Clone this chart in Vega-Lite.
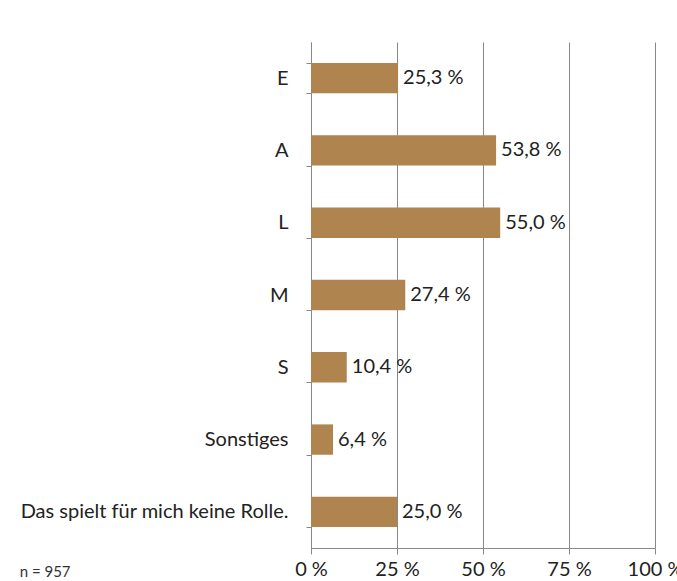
{
  "$schema": "https://vega.github.io/schema/vega-lite/v6.json",
  "width": 344,
  "height": 506,
  "autosize": {"type": "none"},
  "padding": {"left": 311, "top": 42, "right": 22, "bottom": 33},
  "background": "white",
  "data": {
    "values": [
      {"kategorie": "E", "anteil": 25.3},
      {"kategorie": "A", "anteil": 53.8},
      {"kategorie": "L", "anteil": 55.0},
      {"kategorie": "M", "anteil": 27.4},
      {"kategorie": "S", "anteil": 10.4},
      {"kategorie": "Sonstiges", "anteil": 6.4},
      {"kategorie": "Das spielt für mich keine Rolle.", "anteil": 25.0}
    ]
  },
  "title": {
    "text": "n = 957",
    "orient": "bottom",
    "anchor": "start",
    "frame": "bounds",
    "offset": -14,
    "fontSize": 15,
    "fontWeight": "normal",
    "color": "#333333",
    "font": "Lato"
  },
  "encoding": {
    "y": {
      "field": "kategorie",
      "type": "nominal",
      "sort": null,
      "scale": {"paddingInner": 0.58, "paddingOuter": 0.29},
      "axis": {
        "title": null,
        "tickBand": "extent",
        "tickSize": 5,
        "tickColor": "#888888",
        "domainColor": "#888888",
        "labelPadding": 18,
        "labelFontSize": 20,
        "labelFont": "Lato",
        "labelColor": "#222222",
        "labelLimit": 0,
        "grid": false
      }
    },
    "x": {
      "field": "anteil",
      "type": "quantitative",
      "scale": {"domain": [0, 100], "nice": false},
      "axis": {
        "title": null,
        "values": [0, 25, 50, 75, 100],
        "labelExpr": "datum.value + ' %'",
        "grid": true,
        "gridColor": "#888888",
        "gridWidth": 1,
        "tickSize": 6,
        "tickColor": "#888888",
        "domainColor": "#888888",
        "labelPadding": 5,
        "labelFontSize": 20,
        "labelFont": "Lato",
        "labelColor": "#222222",
        "labelFlush": false
      }
    }
  },
  "layer": [
    {"mark": {"type": "bar", "color": "#b0844f"}},
    {
      "transform": [{"calculate": "replace(format(datum.anteil, '.1f'), '.', ',') + ' %'", "as": "beschriftung"}],
      "mark": {"type": "text", "align": "left", "dx": 5, "fontSize": 20, "font": "Lato", "color": "#222222"},
      "encoding": {"text": {"field": "beschriftung"}}
    }
  ],
  "config": {"view": {"stroke": null}}
}
